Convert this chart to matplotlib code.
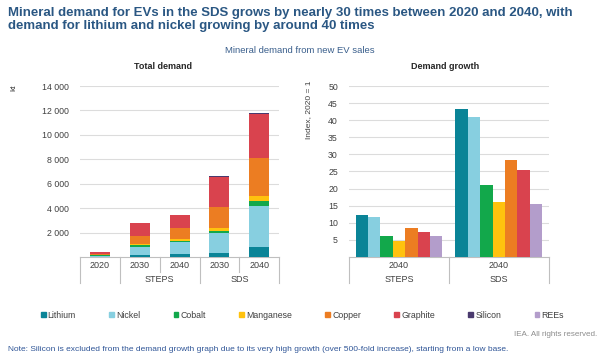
import matplotlib
matplotlib.use("Agg")
import matplotlib.pyplot as plt
from matplotlib.patches import Patch
from matplotlib.ticker import FuncFormatter
import matplotlib.transforms as mtransforms

plt.rcParams['font.family'] = ['Liberation Sans', 'DejaVu Sans']

minerals = ["Lithium", "Nickel", "Cobalt", "Manganese", "Copper", "Graphite", "Silicon", "REEs"]
colors = ["#0A8497", "#87CFE0", "#12A84B", "#FFC20E", "#EC7D22", "#D9434E", "#4A3A6E", "#B39DCB"]

# total demand (kt), one list per mineral: 2020, STEPS 2030, STEPS 2040, SDS 2030, SDS 2040
years = ["2020", "2030", "2040", "2030", "2040"]
lithium = [19, 160, 230, 330, 820]
nickel = [82, 640, 960, 1615, 3320]
cobalt = [21, 160, 130, 215, 435]
manganese = [26, 80, 120, 250, 415]
copper = [111, 710, 950, 1670, 3120]
graphite = [144, 1020, 1040, 2495, 3590]
silicon = [0.2, 10, 20, 30, 80]
rees = [0.5, 3, 3, 5, 8]
totals = [lithium, nickel, cobalt, manganese, copper, graphite, silicon, rees]

# demand growth, index 2020 = 1 (silicon excluded)
growth_minerals = ["Lithium", "Nickel", "Cobalt", "Manganese", "Copper", "Graphite", "REEs"]
growth_steps = [12.3, 11.7, 6.0, 4.6, 8.5, 7.2, 6.0]
growth_sds = [43.3, 40.8, 21.0, 16.0, 28.3, 25.3, 15.4]
growth_groups = ["STEPS", "SDS"]

col = dict(zip(minerals, colors))
grid_c = "#DCDCDC"
tick_c = "#404040"
line_c = "#BFBFBF"

fig = plt.figure(figsize=(6, 3.64), dpi=100)

fig.text(0.013, 0.982, "Mineral demand for EVs in the SDS grows by nearly 30 times between 2020 and 2040, with\n"
         "demand for lithium and nickel growing by around 40 times",
         ha="left", va="top", fontsize=9.5, fontweight="bold", color="#2A5783", linespacing=1.12)
fig.text(0.5, 0.862, "Mineral demand from new EV sales", ha="center", va="center", fontsize=6.8, color="#3A5F8C")
fig.text(0.272, 0.816, "Total demand", ha="center", va="center", fontsize=6.5, fontweight="bold", color="#262626")
fig.text(0.742, 0.816, "Demand growth", ha="center", va="center", fontsize=6.5, fontweight="bold", color="#262626")

# ---- left: stacked totals
ax1 = fig.add_axes([0.1333, 0.294, 0.332, 0.4697])
x = list(range(len(years)))
bottom = [0] * len(years)
for name, vals in zip(minerals, totals):
    ax1.bar(x, vals, 0.5, bottom=bottom, color=col[name], zorder=3)
    bottom = [b + v for b, v in zip(bottom, vals)]
ax1.set_ylim(0, 14000)
ax1.set_xlim(-0.5, 4.5)
ax1.set_yticks(range(2000, 14001, 2000))
ax1.yaxis.set_major_formatter(FuncFormatter(lambda v, p: f"{int(v):,}".replace(",", " ")))
ax1.set_xticks(x)
ax1.set_xticklabels(years)
ax1.text(-0.33, 0.99, "kt", transform=ax1.transAxes, rotation=90, ha="center", va="center",
         fontsize=6, color=tick_c)

# ---- right: growth bars
ax2 = fig.add_axes([0.5817, 0.294, 0.333, 0.4697])
n = len(growth_minerals)
bw = 0.87 / n
for i, name in enumerate(growth_minerals):
    off = -0.435 + bw * (i + 0.5)
    ax2.bar([0 + off, 1 + off], [growth_steps[i], growth_sds[i]], bw, color=col[name], zorder=3)
ax2.set_ylim(0, 50)
ax2.set_xlim(-0.5, 1.5)
ax2.set_yticks(range(5, 51, 5))
ax2.set_xticks([0, 1])
ax2.set_xticklabels(["2040", "2040"])
ax2.text(-0.205, 0.86, "Index, 2020 = 1", transform=ax2.transAxes, rotation=90, ha="center", va="center",
         fontsize=6, color=tick_c)

for ax in (ax1, ax2):
    for s in ("top", "right", "left"):
        ax.spines[s].set_visible(False)
    ax.spines["bottom"].set_color(line_c)
    ax.spines["bottom"].set_linewidth(0.8)
    ax.grid(axis="y", color=grid_c, linewidth=0.8, zorder=0)
    ax.tick_params(axis="y", length=0, labelsize=6.3, labelcolor=tick_c, pad=8)
    ax.tick_params(axis="x", length=0, labelsize=6.5, labelcolor=tick_c, pad=3)

# multi-level category boxes
def vline(ax, xpos, y1):
    tr = mtransforms.blended_transform_factory(ax.transData, ax.transAxes)
    ax.plot([xpos, xpos], [0, y1], transform=tr, color=line_c, lw=0.8, clip_on=False)

def grp_label(ax, xpos, txt):
    tr = mtransforms.blended_transform_factory(ax.transData, ax.transAxes)
    ax.text(xpos, -0.13, txt, transform=tr, ha="center", va="center", fontsize=6.5, color=tick_c)

for xp in (-0.5, 0.5, 2.5, 4.5):
    vline(ax1, xp, -0.155)
for xp in (1.5, 3.5):
    vline(ax1, xp, -0.085)
grp_label(ax1, 1.5, "STEPS")
grp_label(ax1, 3.5, "SDS")

for xp in (-0.5, 0.5, 1.5):
    vline(ax2, xp, -0.155)
grp_label(ax2, 0, growth_groups[0])
grp_label(ax2, 1, growth_groups[1])

handles = [Patch(color=c, label=m) for m, c in zip(minerals, colors)]
fig.legend(handles=handles, loc="center", bbox_to_anchor=(0.504, 0.134), ncol=8, frameon=False,
           fontsize=6.3, handlelength=0.55, handleheight=0.55, handletextpad=0.25,
           columnspacing=3.8, labelcolor=tick_c)

fig.text(0.995, 0.08, "IEA. All rights reserved.", ha="right", va="center", fontsize=5.8, color="#8C8C8C")
fig.text(0.013, 0.04, "Note: Silicon is excluded from the demand growth graph due to its very high growth "
         "(over 500-fold increase), starting from a low base.",
         ha="left", va="center", fontsize=6.0, color="#2F5597")

fig.savefig("out.png", dpi=100)
